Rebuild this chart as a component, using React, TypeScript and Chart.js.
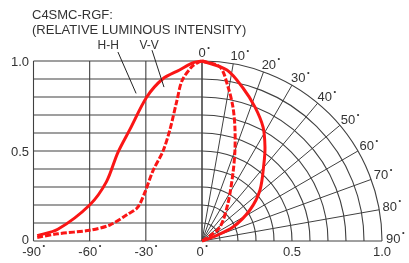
import { useEffect, useRef } from 'react';
import { Chart, registerables } from 'chart.js';

Chart.register(...registerables);

// ---- data ----
const TITLE_LINE1 = 'C4SMC-RGF:';
const TITLE_LINE2 = '(RELATIVE LUMINOUS INTENSITY)';

// left (rectangular) part: angle in degrees, relative intensity
const LEFT_SOLID_ANGLES = [-88, -77, -60, -51, -45, -38.5, -29.5, -21, -12, -5, 0];
const LEFT_SOLID_VALUES = [0.03, 0.065, 0.2, 0.33, 0.49, 0.62, 0.8, 0.9, 0.95, 0.99, 1.0];
const LEFT_DASHED_ANGLES = [-88, -77, -60, -49, -39.5, -34.5, -30.5, -26.2, -20.8, -17.1, -13.4, -10.7, -5.3, -1.5, 0];
const LEFT_DASHED_VALUES = [0.02, 0.04, 0.06, 0.09, 0.15, 0.185, 0.27, 0.39, 0.5, 0.62, 0.78, 0.89, 0.97, 0.995, 1.0];

// right (polar) part: angle in degrees from the axis, relative intensity
const POLAR_SOLID_ANGLES = [0, 8.3, 15, 21.6, 28.2, 33.8, 38.5, 48.7, 57.1, 65.7, 70, 80];
const POLAR_SOLID_VALUES = [1.0, 0.96, 0.88, 0.8, 0.718, 0.629, 0.553, 0.429, 0.317, 0.189, 0.065, 0];
const POLAR_DASHED_ANGLES = [0, 5.9, 9.6, 13, 16.1, 19.9, 24.5, 34.4, 52, 59, 70];
const POLAR_DASHED_VALUES = [1.0, 0.972, 0.868, 0.764, 0.659, 0.538, 0.415, 0.256, 0.127, 0.032, 0];

// axes / ticks
const LEFT_ANGLE_TICKS = [-90, -60, -30, 0];
const INTENSITY_TICKS = [0, 0.5, 1.0];
const INTENSITY_TICK_LABELS = ['0', '0.5', '1.0'];
const RADIAL_TICKS = [0.5, 1.0];
const RADIAL_TICK_LABELS = ['0.5', '1.0'];
const POLAR_ANGLE_TICKS = [0, 10, 20, 30, 40, 50, 60, 70, 80, 90];
const GRID_STEP = 0.1;

// annotation labels: text, text position (angle, value), pointer (angle,value) -> (angle,value)
const ANNOTATION_TEXT = ['H-H', 'V-V'];
const ANNOTATION_TEXT_POS = [[-55.8, 1.067], [-33.4, 1.067]];
const ANNOTATION_POINTER = [[[-44.9, 1.05], [-35.2, 0.82]], [[-26.7, 1.06], [-20.3, 0.855]]];

// ---- layout (style) ----
const LEFT_SPAN = 168.5 / 180; // width of the -90..0 block relative to the polar radius
const RED = 'rgb(250,22,22)';
const GRID = '#404040';
const TEXT = '#333';
const FONT = '"Liberation Sans", Arial, sans-serif';

const rad = (d: number) => (d * Math.PI) / 180;
const angleToX = (a: number) => (a / 90) * LEFT_SPAN;

const leftPoints = (angles: number[], values: number[]) =>
  angles.map((a, i) => ({ x: angleToX(a), y: values[i] }));
const polarPoints = (angles: number[], values: number[]) =>
  angles.map((a, i) => ({ x: values[i] * Math.sin(rad(a)), y: values[i] * Math.cos(rad(a)) }));

const gridPlugin = {
  id: 'polarGrid',
  beforeDatasetsDraw(chart: any) {
    const { ctx } = chart;
    const xs = chart.scales.x;
    const ys = chart.scales.y;
    const px = (v: number) => xs.getPixelForValue(v);
    const py = (v: number) => ys.getPixelForValue(v);
    const cx = px(0);
    const cy = py(0);
    const R = px(1) - cx;
    ctx.save();
    ctx.strokeStyle = GRID;
    ctx.lineWidth = 1.1;
    // left rectangular grid
    const xl = px(angleToX(-90));
    for (let v = 0; v <= 1.0001; v += GRID_STEP) {
      ctx.beginPath();
      ctx.moveTo(xl, py(v));
      ctx.lineTo(cx, py(v));
      ctx.stroke();
    }
    for (const a of LEFT_ANGLE_TICKS) {
      ctx.beginPath();
      ctx.moveTo(px(angleToX(a)), py(0));
      ctx.lineTo(px(angleToX(a)), py(1));
      ctx.stroke();
    }
    // polar grid
    for (let r = GRID_STEP; r <= 1.0001; r += GRID_STEP) {
      ctx.beginPath();
      ctx.arc(cx, cy, r * R, -Math.PI / 2, 0);
      ctx.stroke();
    }
    ctx.lineWidth = 1;
    for (const a of POLAR_ANGLE_TICKS) {
      ctx.beginPath();
      ctx.moveTo(cx, cy);
      ctx.lineTo(px(Math.sin(rad(a))), py(Math.cos(rad(a))));
      ctx.stroke();
    }
    ctx.restore();
  },
  afterDatasetsDraw(chart: any) {
    const { ctx } = chart;
    const xs = chart.scales.x;
    const ys = chart.scales.y;
    const px = (v: number) => xs.getPixelForValue(v);
    const py = (v: number) => ys.getPixelForValue(v);
    const size = 13;
    const cap = size * 0.716;
    ctx.save();
    ctx.fillStyle = TEXT;
    ctx.font = `${size}px ${FONT}`;

    const degText = (txt: string, x: number, yBase: number, align: 'left' | 'center') => {
      ctx.font = `${size}px ${FONT}`;
      const w = ctx.measureText(txt).width;
      const dotGap = 2.8;
      const total = w + dotGap + 1;
      const left = align === 'center' ? x - total / 2 : x;
      ctx.textAlign = 'left';
      ctx.textBaseline = 'alphabetic';
      ctx.fillText(txt, left, yBase);
      ctx.font = `7.5px ${FONT}`;
      ctx.textAlign = 'center';
      ctx.textBaseline = 'middle';
      ctx.fillText('•', left + w + dotGap, yBase - cap);
      ctx.font = `${size}px ${FONT}`;
    };

    // title
    ctx.textAlign = 'left';
    ctx.textBaseline = 'alphabetic';
    ctx.fillText(TITLE_LINE1, 32, 19);
    ctx.fillText(TITLE_LINE2, 32, 33.5);

    // intensity ticks on the left
    ctx.textAlign = 'right';
    ctx.textBaseline = 'middle';
    INTENSITY_TICKS.forEach((v, i) => {
      const y = i === 0 ? py(v) - 0.5 : py(v) + 1;
      ctx.fillText(INTENSITY_TICK_LABELS[i], px(angleToX(-90)) - 4.5, y);
    });

    // angle ticks along the bottom of the left block
    const bottomBase = py(0) + 14.5;
    LEFT_ANGLE_TICKS.forEach((a) => {
      degText(String(a), px(angleToX(a)), bottomBase, 'center');
    });

    // radial ticks along the bottom of the polar block
    ctx.textAlign = 'center';
    ctx.textBaseline = 'alphabetic';
    RADIAL_TICKS.forEach((r, i) => {
      ctx.fillText(RADIAL_TICK_LABELS[i], px(r), bottomBase);
    });

    // polar angle labels
    POLAR_ANGLE_TICKS.forEach((a) => {
      const s = Math.sin(rad(a));
      const c = Math.cos(rad(a));
      const x = px(s) + 4 * s - 3.5 * c;
      const y = py(c) - 4 * c + 1.5 * s;
      degText(String(a), x, y, 'left');
    });

    // H-H / V-V annotations
    ctx.font = `12px ${FONT}`;
    ctx.textAlign = 'left';
    ctx.textBaseline = 'alphabetic';
    ANNOTATION_TEXT.forEach((t, i) => {
      const [a, v] = ANNOTATION_TEXT_POS[i];
      ctx.fillText(t, px(angleToX(a)), py(v));
    });
    ctx.strokeStyle = '#222';
    ctx.lineWidth = 1;
    ANNOTATION_POINTER.forEach(([[a1, v1], [a2, v2]]) => {
      ctx.beginPath();
      ctx.moveTo(px(angleToX(a1)), py(v1));
      ctx.lineTo(px(angleToX(a2)), py(v2));
      ctx.stroke();
    });
    ctx.restore();
  },
};

export default function App() {
  const ref = useRef<HTMLCanvasElement | null>(null);

  useEffect(() => {
    if (!ref.current) return;
    const common = {
      showLine: true,
      pointRadius: 0,
      pointHoverRadius: 0,
      borderColor: RED,
      backgroundColor: RED,
      borderWidth: 3,
      tension: 0.3,
      fill: false,
      clip: 6,
    };
    const chart = new Chart(ref.current, {
      type: 'scatter',
      data: {
        datasets: [
          { ...common, label: 'H-H', data: leftPoints(LEFT_SOLID_ANGLES, LEFT_SOLID_VALUES) },
          { ...common, label: 'V-V', borderDash: [6, 2], data: leftPoints(LEFT_DASHED_ANGLES, LEFT_DASHED_VALUES) },
          { ...common, label: 'H-H polar', data: polarPoints(POLAR_SOLID_ANGLES, POLAR_SOLID_VALUES) },
          { ...common, label: 'V-V polar', borderDash: [6, 2], data: polarPoints(POLAR_DASHED_ANGLES, POLAR_DASHED_VALUES) },
        ],
      },
      options: {
        responsive: false,
        animation: false,
        events: [],
        layout: { padding: { left: 33.5, right: 27, top: 61, bottom: 22 } },
        scales: {
          x: { type: 'linear', min: -LEFT_SPAN, max: 1, display: false },
          y: { type: 'linear', min: 0, max: 1, display: false },
        },
        plugins: { legend: { display: false }, tooltip: { enabled: false }, title: { display: false } },
      },
      plugins: [gridPlugin],
    } as any);
    return () => chart.destroy();
  }, []);

  return (
    <div style={{ position: 'absolute', left: 0, top: 0, width: 409, height: 263, background: '#fff' }}>
      <canvas ref={ref} width={409} height={263} style={{ display: 'block' }} />
    </div>
  );
}
